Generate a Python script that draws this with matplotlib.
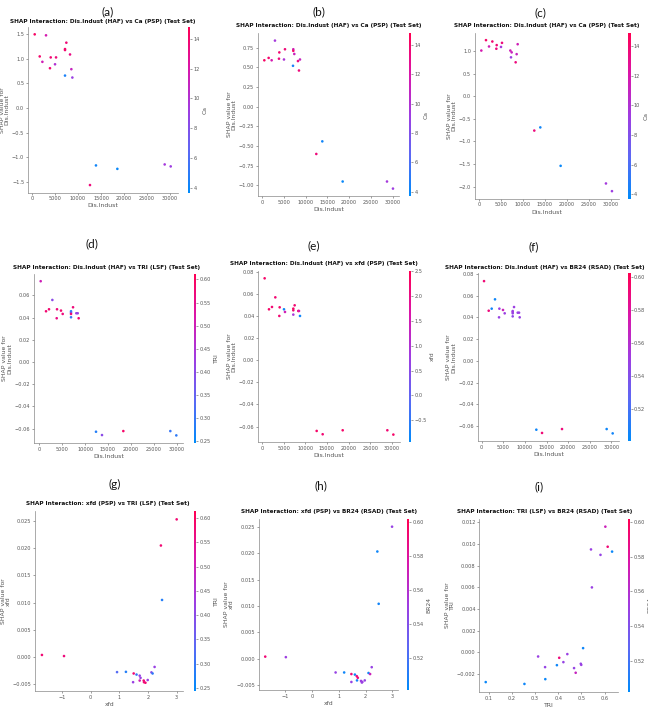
import numpy as np
import matplotlib
matplotlib.use("Agg")
import matplotlib.pyplot as plt
from matplotlib.colors import LinearSegmentedColormap

# ---------------- data ----------------
# (a) Dis.Indust (HAF) vs Ca (PSP)
a_x = [580, 3040, 1670, 2250, 4060, 5220, 3900, 5000, 7460, 7170, 7170, 8260, 8550, 8770, 7170,
       13900, 18550, 12600, 28840, 30150]
a_y = [1.50, 1.48, 1.05, 0.94, 1.03, 1.03, 0.81, 0.89, 1.33, 1.20, 1.18, 1.09, 0.79, 0.62, 0.66,
       -1.17, -1.24, -1.57, -1.15, -1.19]
a_c = [14.2, 11.8, 14.0, 11.5, 13.8, 13.5, 13.8, 10.0, 13.6, 14.0, 13.9, 13.2, 11.0, 9.0, 4.5,
       4.2, 4.0, 13.5, 9.5, 9.2]

# (b) Dis.Indust (HAF) vs Ca (PSP)
b_x = [540, 1530, 2220, 2980, 3980, 3900, 5050, 5280, 7190, 7190, 7420, 7120, 8260, 8720, 8490,
       13850, 12470, 18520, 28700, 30070]
b_y = [0.59, 0.62, 0.59, 0.84, 0.69, 0.61, 0.60, 0.73, 0.73, 0.71, 0.67, 0.52, 0.58, 0.60, 0.46,
       -0.44, -0.60, -0.95, -0.95, -1.04]
b_c = [14.2, 14.0, 11.8, 9.5, 13.8, 13.5, 9.8, 13.6, 11.5, 14.0, 11.2, 4.5, 13.2, 11.0, 13.5,
       4.2, 13.5, 4.0, 9.5, 9.2]

# (c) Dis.Indust (HAF) vs Ca (PSP)
c_x = [530, 1590, 2280, 3040, 4030, 3950, 5240, 5010, 7140, 7440, 7290, 8580, 8810, 8350,
       12600, 13970, 18600, 28930, 30300]
c_y = [1.01, 1.24, 1.10, 1.21, 1.13, 1.05, 1.18, 1.09, 1.01, 0.97, 0.86, 0.93, 1.15, 0.75,
       -0.76, -0.69, -1.54, -1.93, -2.10]
c_c = [11.8, 14.2, 11.5, 14.0, 13.8, 13.5, 13.6, 9.5, 11.5, 11.2, 9.0, 11.0, 11.5, 13.5,
       13.5, 4.2, 4.0, 9.5, 9.2]

# (d) Dis.Indust (HAF) vs TRI (LSF)
d_x = [290, 2840, 1460, 2110, 3860, 3790, 4730, 5100, 6920, 6920, 6920, 6920, 7360, 8080, 8380, 8590,
       12380, 13690, 18350, 28620, 29930]
d_y = [0.0728, 0.0559, 0.0457, 0.0475, 0.0475, 0.0394, 0.0463, 0.0433, 0.0457, 0.0445, 0.0433, 0.0403,
       0.0493, 0.0439, 0.0439, 0.0394, -0.0629, -0.0659, -0.0623, -0.0623, -0.0662]
d_c = [0.50, 0.40, 0.58, 0.58, 0.57, 0.56, 0.58, 0.57, 0.28, 0.35, 0.58, 0.30, 0.57, 0.42, 0.42, 0.58,
       0.28, 0.40, 0.59, 0.30, 0.29]

# (e) Dis.Indust (HAF) vs xfd (PSP)
e_x = [615, 3080, 1620, 2310, 4080, 4000, 5080, 5310, 7230, 7230, 7540, 7230, 8380, 8540, 8770,
       12620, 14000, 18620, 28920, 30310]
e_y = [0.0740, 0.0568, 0.0460, 0.0481, 0.0478, 0.0400, 0.0460, 0.0436, 0.0451, 0.0466, 0.0496, 0.0412,
       0.0445, 0.0445, 0.0400, -0.0639, -0.0669, -0.0633, -0.0633, -0.0672]
e_c = [2.3, 2.2, 2.3, 2.2, 2.3, 2.2, -0.8, 1.5, 2.2, 2.3, 2.2, 0.9, 2.3, 1.6, -0.8,
       2.3, 2.2, 2.3, 2.2, 2.3]

# (f) Dis.Indust (HAF) vs BR24 (RSAD)
f_x = [540, 3080, 2310, 1620, 4090, 4010, 4930, 5320, 7170, 7170, 7170, 7170, 7480, 8330, 8640, 8790,
       12640, 13960, 18580, 28910, 30300]
f_y = [0.0735, 0.0567, 0.0481, 0.0462, 0.0481, 0.0401, 0.0469, 0.0438, 0.0459, 0.0450, 0.0438, 0.0410,
       0.0496, 0.0444, 0.0444, 0.0401, -0.0635, -0.0665, -0.0629, -0.0629, -0.0669]
f_c = [0.592, 0.505, 0.506, 0.590, 0.550, 0.548, 0.570, 0.550, 0.548, 0.552, 0.548, 0.545,
       0.550, 0.548, 0.550, 0.548, 0.505, 0.592, 0.590, 0.505, 0.506]

# (g) xfd (PSP) vs TRI (LSF)
g_x = [3.00, 2.45, 2.49, -1.70, -0.93, 0.92, 1.23, 1.50, 1.60, 1.48, 1.71, 1.74, 1.71, 1.85, 1.86, 1.91,
       1.99, 2.12, 2.16, 2.23]
g_y = [0.0253, 0.0205, 0.0105, 0.0004, 0.0002, -0.00275, -0.0027, -0.0030, -0.0032, -0.0046, -0.0034,
       -0.0038, -0.0043, -0.0043, -0.0046, -0.0047, -0.0042, -0.0028, -0.0030, -0.0018]
g_c = [0.58, 0.58, 0.28, 0.58, 0.57, 0.33, 0.28, 0.58, 0.30, 0.42, 0.42, 0.42, 0.50, 0.58, 0.57, 0.58,
       0.42, 0.40, 0.29, 0.42]

# (h) xfd (PSP) vs BR24 (RSAD)
h_x = [2.99, 2.44, 2.49, -1.75, -0.98, 0.88, 1.20, 1.47, 1.60, 1.47, 1.67, 1.71, 1.68, 1.83, 1.86, 1.88,
       1.97, 2.11, 2.17, 2.23]
h_y = [0.0250, 0.0203, 0.0104, 0.0004, 0.0003, -0.0026, -0.0026, -0.0029, -0.0030, -0.0044, -0.0033,
       -0.0036, -0.0041, -0.0042, -0.0045, -0.0044, -0.0041, -0.0027, -0.0029, -0.0016]
h_c = [0.548, 0.505, 0.506, 0.592, 0.550, 0.548, 0.505, 0.592, 0.505, 0.548, 0.590, 0.590, 0.507,
       0.550, 0.548, 0.550, 0.548, 0.506, 0.570, 0.548]

# (i) TRI (LSF) vs BR24 (RSAD)
i_x = [0.603, 0.613, 0.632, 0.541, 0.582, 0.545, 0.087, 0.254, 0.313, 0.343, 0.344, 0.394, 0.404, 0.422,
       0.439, 0.468, 0.475, 0.497, 0.499, 0.507]
i_y = [0.0116, 0.00975, 0.0093, 0.0095, 0.0090, 0.0060, -0.00273, -0.0029, -0.00037, -0.00135, -0.00246,
       -0.00117, -0.00049, -0.00089, -0.00015, -0.00144, -0.00187, -0.00104, -0.00114, 0.0004]
i_c = [0.570, 0.592, 0.505, 0.550, 0.548, 0.550, 0.505, 0.506, 0.550, 0.548, 0.505, 0.506, 0.590,
       0.548, 0.550, 0.548, 0.568, 0.548, 0.550, 0.506]

titles = [
    "SHAP Interaction: Dis.Indust (HAF) vs Ca (PSP) (Test Set)",
    "SHAP Interaction: Dis.Indust (HAF) vs Ca (PSP) (Test Set)",
    "SHAP Interaction: Dis.Indust (HAF) vs Ca (PSP) (Test Set)",
    "SHAP Interaction: Dis.Indust (HAF) vs TRI (LSF) (Test Set)",
    "SHAP Interaction: Dis.Indust (HAF) vs xfd (PSP) (Test Set)",
    "SHAP Interaction: Dis.Indust (HAF) vs BR24 (RSAD) (Test Set)",
    "SHAP Interaction: xfd (PSP) vs TRI (LSF) (Test Set)",
    "SHAP Interaction: xfd (PSP) vs BR24 (RSAD) (Test Set)",
    "SHAP Interaction: TRI (LSF) vs BR24 (RSAD) (Test Set)",
]
panel_letters = ["(a)", "(b)", "(c)", "(d)", "(e)", "(f)", "(g)", "(h)", "(i)"]
x_features = ["Dis.Indust"] * 6 + ["xfd", "xfd", "TRI"]
c_features = ["Ca", "Ca", "Ca", "TRI", "xfd", "BR24", "TRI", "BR24", "BR24"]
xs = [a_x, b_x, c_x, d_x, e_x, f_x, g_x, h_x, i_x]
ys = [a_y, b_y, c_y, d_y, e_y, f_y, g_y, h_y, i_y]
cs = [a_c, b_c, c_c, d_c, e_c, f_c, g_c, h_c, i_c]
c_ranges = [(3.7, 14.8), (3.7, 14.8), (3.7, 14.9), (0.245, 0.613), (-0.95, 2.52), (0.501, 0.602),
            (0.244, 0.614), (0.501, 0.602), (0.502, 0.602)]
c_ticks = [[4, 6, 8, 10, 12, 14]] * 3 + [[0.25, 0.30, 0.35, 0.40, 0.45, 0.50, 0.55, 0.60],
           [-0.5, 0.0, 0.5, 1.0, 1.5, 2.0, 2.5], [0.52, 0.54, 0.56, 0.58, 0.60],
           [0.25, 0.30, 0.35, 0.40, 0.45, 0.50, 0.55, 0.60], [0.52, 0.54, 0.56, 0.58, 0.60],
           [0.52, 0.54, 0.56, 0.58, 0.60]]
c_fmt = ["{:.0f}"] * 3 + ["{:.2f}", "{:.1f}", "{:.2f}", "{:.2f}", "{:.2f}", "{:.2f}"]

# ---------------- layout (pixels) ----------------
W, H = 648, 712
boxes = [
    (27.9, 26.8, 177.5, 192.6, 187.5),
    (257.9, 33.2, 399.4, 196.0, 408.7),
    (474.8, 32.6, 618.5, 198.7, 628.0),
    (33.9, 273.5, 183.1, 443.1, 193.5),
    (258.2, 270.5, 399.8, 442.4, 408.7),
    (477.6, 273.5, 619.1, 441.0, 628.0),
    (35.2, 511.2, 183.4, 690.9, 193.5),
    (258.9, 518.9, 398.4, 690.3, 406.7),
    (479.4, 518.8, 618.4, 691.8, 627.5),
]
letter_pos = [(108, 12), (319, 12), (540, 13), (92, 244), (314, 246), (534, 247),
              (115, 484), (321, 486), (539, 487)]
title_pos = [(103, 21.5), (329, 26), (547, 26), (107, 267), (324, 264), (545, 267),
             (108, 504), (329, 512), (545, 512)]

cmap = LinearSegmentedColormap.from_list(
    "shap_red_blue",
    [(0.0, (0/255, 139/255, 250/255)),
     (0.25, (92/255, 104/255, 244/255)),
     (0.5, (160/255, 60/255, 225/255)),
     (0.75, (218/255, 22/255, 170/255)),
     (1.0, (255/255, 0/255, 82/255))])

grey = "#555555"
plt.rcParams["font.family"] = ["DejaVu Sans"]
fig = plt.figure(figsize=(W / 100, H / 100), dpi=100)

def rect(l, t, r, b):
    return [l / W, 1 - b / H, (r - l) / W, (b - t) / H]

for k in range(9):
    l, t, r, b, cx = boxes[k]
    ax = fig.add_axes(rect(l, t, r, b))
    vmin, vmax = c_ranges[k]
    sc = ax.scatter(xs[k], ys[k], c=cs[k], cmap=cmap, vmin=vmin, vmax=vmax, s=3.5, linewidths=0)
    ax.spines["top"].set_visible(False)
    ax.spines["right"].set_visible(False)
    for sp in ["left", "bottom"]:
        ax.spines[sp].set_color("#888888")
        ax.spines[sp].set_linewidth(0.5)
    ax.tick_params(labelsize=3.6, colors=grey, length=1.5, width=0.4, pad=1.2)
    ax.set_xlabel(x_features[k], fontsize=4.4, color=grey, labelpad=1.5)
    ax.set_ylabel("SHAP value for\n" + x_features[k], fontsize=4.4, color=grey, labelpad=1.5,
                  linespacing=1.0)

    cax = fig.add_axes(rect(cx, t, cx + 2.5, b))
    cb = fig.colorbar(sc, cax=cax)
    cb.outline.set_visible(False)
    cb.set_ticks(c_ticks[k])
    cb.set_ticklabels([c_fmt[k].format(v).replace("-", "\u2212") for v in c_ticks[k]])
    cax.tick_params(labelsize=3.6, colors=grey, length=1.5, width=0.4, pad=1)
    cb.set_label(c_features[k], fontsize=4.4, color=grey, labelpad=2)

    tx, ty = title_pos[k]
    fig.text(tx / W, 1 - ty / H, titles[k], ha="center", va="center",
             fontsize=4.15, fontweight="bold", color="#111111")
    lx, ly = letter_pos[k]
    fig.text(lx / W, 1 - ly / H, panel_letters[k], ha="center", va="center",
             fontsize=8.5, family="Lato", color="#111111")

fig.savefig("out.png", dpi=100, facecolor="white")
